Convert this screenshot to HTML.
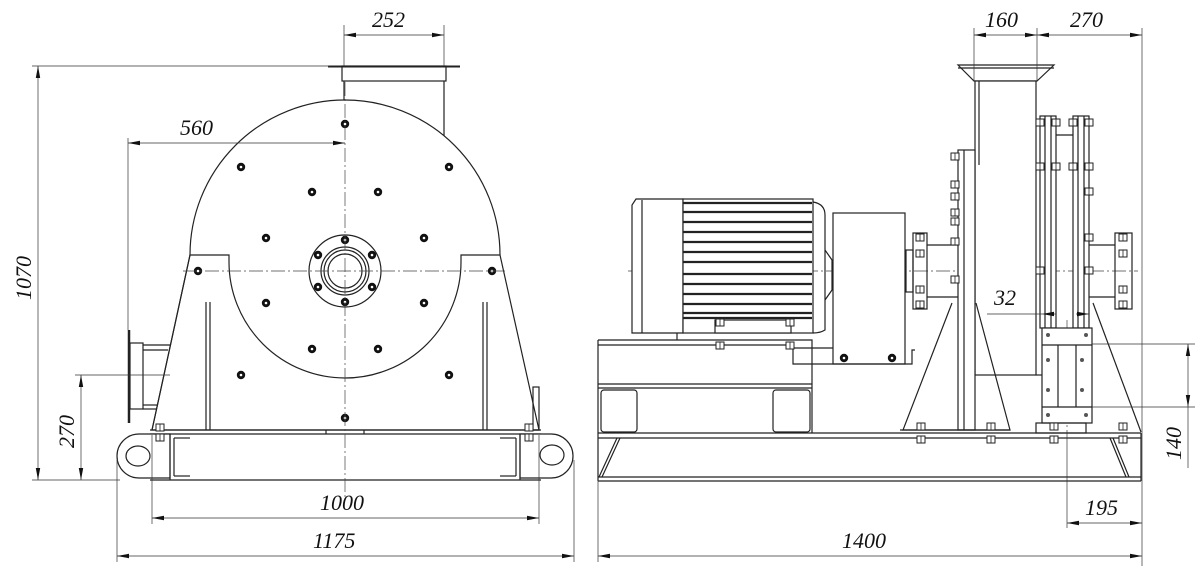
<!DOCTYPE html>
<html><head><meta charset="utf-8"><style>
html,body{margin:0;padding:0;background:#fff;}
svg{display:block;}
text{font-family:"Liberation Serif",serif;font-style:italic;font-size:22px;fill:#111;}
</style></head><body>
<svg width="1200" height="576" viewBox="0 0 1200 576" xmlns="http://www.w3.org/2000/svg">
<defs>
<marker id="a" viewBox="0 0 12 6" refX="12" refY="3" markerWidth="12" markerHeight="6" orient="auto-start-reverse" markerUnits="userSpaceOnUse"><path d="M0,0.8 L12,3 L0,5.2z" fill="#111"/></marker>
<g id="b"><circle r="4.2" fill="#111"/><circle r="1.3" fill="#fff"/></g>
<g id="nb"><rect x="-4" y="-4" width="8" height="7" fill="#fff" stroke="#222" stroke-width="1"/><line x1="0" y1="-4" x2="0" y2="3" stroke="#222" stroke-width="0.8"/></g>
</defs>
<g fill="none" stroke="#222" stroke-width="1.2">
<line x1="328" y1="66.5" x2="460" y2="66.5" stroke-width="2"/>
<rect x="342" y="66" width="104" height="15"/>
<line x1="344" y1="81" x2="344" y2="116"/>
<line x1="444" y1="81" x2="444" y2="150"/>
<path d="M190,255 A155,155 0 0 1 500,255" fill="#fff"/>
<path d="M190,255 L229,255 L229,262 A116,116 0 0 0 461,262 L461,255 L500,255 L539,430 L152,430 Z" fill="#fff"/>
<path d="M190,255 L152,430"/>
<line x1="206" y1="302" x2="206" y2="430"/><line x1="210" y1="302" x2="210" y2="430"/>
<line x1="483" y1="302" x2="483" y2="430"/><line x1="487" y1="302" x2="487" y2="430"/>
<rect x="533" y="387" width="6" height="43"/>
<line x1="129" y1="330" x2="129" y2="423" stroke-width="2.5"/>
<rect x="130" y="343" width="13" height="66"/>
<line x1="143" y1="345" x2="170" y2="345"/><line x1="143" y1="350" x2="168" y2="350"/>
<line x1="143" y1="405" x2="158" y2="405"/><line x1="143" y1="409" x2="156" y2="409"/>
<circle cx="345" cy="271" r="36"/>
<circle cx="345" cy="271" r="24"/>
<circle cx="345" cy="271" r="21"/>
<circle cx="345" cy="271" r="17"/>
<line x1="150" y1="430" x2="541" y2="430"/><line x1="150" y1="434" x2="541" y2="434"/>
<path d="M170,434 L139,434 A22,22 0 0 0 139,478 L170,478 Z" fill="#fff"/>
<path d="M520,434 L551,434 A22,22 0 0 1 551,478 L520,478 Z" fill="#fff"/>
<ellipse cx="138" cy="456" rx="12" ry="10"/>
<ellipse cx="552" cy="455" rx="12" ry="10"/>
<line x1="150" y1="480" x2="541" y2="480"/>
<line x1="170" y1="434" x2="170" y2="480"/><line x1="174" y1="438" x2="174" y2="476"/>
<line x1="516" y1="438" x2="516" y2="476"/><line x1="520" y1="434" x2="520" y2="480"/>
<line x1="174" y1="438" x2="190" y2="438"/><line x1="174" y1="476" x2="190" y2="476"/>
<line x1="500" y1="438" x2="516" y2="438"/><line x1="500" y1="476" x2="516" y2="476"/>
<line x1="326" y1="434" x2="326" y2="430"/><line x1="364" y1="434" x2="364" y2="430"/>
</g>
<g>
<use href="#nb" x="160" y="428"/><use href="#nb" x="160" y="438"/>
<use href="#nb" x="529" y="428"/><use href="#nb" x="529" y="438"/>
<use href="#b" x="345" y="124"/><use href="#b" x="241" y="167"/><use href="#b" x="449" y="167"/>
<use href="#b" x="312" y="192"/><use href="#b" x="378" y="192"/>
<use href="#b" x="266" y="238"/><use href="#b" x="424" y="238"/>
<use href="#b" x="198" y="271"/><use href="#b" x="492" y="271"/>
<use href="#b" x="266" y="303"/><use href="#b" x="424" y="303"/>
<use href="#b" x="312" y="349"/><use href="#b" x="378" y="349"/>
<use href="#b" x="241" y="375"/><use href="#b" x="449" y="375"/>
<use href="#b" x="345" y="418"/>
<use href="#b" x="345" y="240"/><use href="#b" x="345" y="302"/>
<use href="#b" x="318" y="255"/><use href="#b" x="372" y="255"/>
<use href="#b" x="318" y="287"/><use href="#b" x="372" y="287"/>
</g>
<g stroke="#444" stroke-width="0.7" stroke-dasharray="14,3,2,3" fill="none">
<line x1="183" y1="271" x2="506" y2="271"/>
<line x1="345" y1="82" x2="345" y2="500"/>
<line x1="628" y1="271" x2="1138" y2="271"/>
<line x1="1067" y1="320" x2="1067" y2="430"/>
</g>
<g fill="none" stroke="#222" stroke-width="1.2">
<path d="M636,199 L683,199 L683,333 L632,333 L632,205 Z" fill="#fff"/>
<line x1="642" y1="200" x2="642" y2="333"/>
<rect x="683" y="199" width="130" height="134" fill="#fff"/>
<path d="M813,202 Q825,204 825,215 L825,330 Q820,333 813,333"/>
<path d="M825,250 L832,260 L832,290 L825,300"/>
<g stroke-width="2.2">
<line x1="683" y1="203" x2="812" y2="203"/><line x1="683" y1="212" x2="812" y2="212"/>
<line x1="683" y1="222" x2="812" y2="222"/><line x1="683" y1="232" x2="812" y2="232"/>
<line x1="683" y1="242" x2="812" y2="242"/><line x1="683" y1="252" x2="812" y2="252"/>
<line x1="683" y1="262" x2="812" y2="262"/><line x1="683" y1="274" x2="812" y2="274"/>
<line x1="683" y1="284" x2="812" y2="284"/><line x1="683" y1="294" x2="812" y2="294"/>
<line x1="683" y1="304" x2="812" y2="304"/><line x1="683" y1="313" x2="812" y2="313"/>
<line x1="683" y1="318" x2="812" y2="318"/>
</g>
<rect x="715" y="320" width="76" height="13" fill="#fff"/>
<line x1="677" y1="333" x2="677" y2="340"/>
<rect x="833" y="213" width="72" height="151" fill="#fff"/>
<path d="M793,348 L793,364 L912,364 L912,350 L915,350"/>
<path d="M793,348 L833,348"/>
<path d="M598,340 L812,340 L812,433 M598,345 L793,345 M598,384 L812,384 M598,388 L812,388"/>
<line x1="598" y1="340" x2="598" y2="481"/>
<rect x="601" y="390" width="36" height="42" rx="3"/>
<rect x="773" y="390" width="37" height="42" rx="3"/>
<line x1="598" y1="433" x2="1141" y2="433"/><line x1="598" y1="438" x2="1141" y2="438"/>
<line x1="598" y1="477" x2="1141" y2="477"/><line x1="598" y1="481" x2="1141" y2="481"/>
<line x1="1141" y1="433" x2="1141" y2="481"/>
<path d="M617,438 L599,477 M620,438 L602,477 M1110,438 L1126,477 M1113,438 L1129,477"/>
<path d="M958,65 L1054,65 L1037,81 L974,81 Z" fill="#fff"/>
<line x1="958" y1="68" x2="1054" y2="68"/>
<rect x="975" y="81" width="61" height="294" fill="#fff"/>
<line x1="979" y1="81" x2="979" y2="165"/>
<rect x="958" y="150" width="17" height="280" fill="#fff"/>
<line x1="964" y1="150" x2="964" y2="430"/>
<path d="M952,303 L903,430 L1010,430 L976,303"/>
<line x1="900" y1="430" x2="1010" y2="430"/>
<rect x="913" y="233" width="14" height="76"/>
<rect x="906" y="250" width="7" height="42"/>
<line x1="927" y1="245" x2="958" y2="245"/><line x1="927" y1="297" x2="958" y2="297"/>
<rect x="1040" y="116" width="16" height="212" fill="#fff"/>
<line x1="1045" y1="116" x2="1045" y2="328"/><line x1="1051" y1="116" x2="1051" y2="328"/>
<rect x="1073" y="116" width="16" height="212" fill="#fff"/>
<line x1="1078" y1="116" x2="1078" y2="328"/><line x1="1084" y1="116" x2="1084" y2="328"/>
<line x1="1056" y1="135" x2="1073" y2="135"/>
<line x1="1036" y1="375" x2="1042" y2="375"/>
<rect x="1042" y="328" width="50" height="95" fill="#fff"/>
<line x1="1042" y1="345" x2="1092" y2="345"/>
<line x1="1058" y1="345" x2="1058" y2="407"/><line x1="1076" y1="345" x2="1076" y2="407"/>
<line x1="1042" y1="407" x2="1092" y2="407"/>
<rect x="1036" y="423" width="50" height="10"/>
<path d="M1093,303 L1141,432"/>
<rect x="1115" y="233" width="17" height="76"/>
<line x1="1089" y1="245" x2="1115" y2="245"/><line x1="1089" y1="297" x2="1115" y2="297"/>
</g>
<g>
<use href="#nb" x="920" y="238"/><use href="#nb" x="920" y="254"/><use href="#nb" x="920" y="290"/><use href="#nb" x="920" y="305"/>
<use href="#nb" x="1123" y="238"/><use href="#nb" x="1123" y="254"/><use href="#nb" x="1123" y="290"/><use href="#nb" x="1123" y="305"/>
<use href="#nb" x="955" y="157"/><use href="#nb" x="955" y="185"/><use href="#nb" x="955" y="197"/><use href="#nb" x="955" y="213"/><use href="#nb" x="955" y="222"/><use href="#nb" x="955" y="242"/><use href="#nb" x="955" y="280"/>
<use href="#nb" x="1040" y="123"/><use href="#nb" x="1040" y="167"/><use href="#nb" x="1040" y="271"/>
<use href="#nb" x="1089" y="123"/><use href="#nb" x="1089" y="167"/><use href="#nb" x="1089" y="192"/><use href="#nb" x="1089" y="238"/><use href="#nb" x="1089" y="271"/>
<use href="#nb" x="1073" y="123"/><use href="#nb" x="1073" y="167"/><use href="#nb" x="1056" y="123"/><use href="#nb" x="1056" y="167"/>
<use href="#nb" x="720" y="323"/><use href="#nb" x="720" y="346"/><use href="#nb" x="790" y="323"/><use href="#nb" x="790" y="346"/>
<use href="#nb" x="921" y="427"/><use href="#nb" x="921" y="440"/><use href="#nb" x="991" y="427"/><use href="#nb" x="991" y="440"/>
<use href="#nb" x="1054" y="427"/><use href="#nb" x="1054" y="440"/><use href="#nb" x="1123" y="427"/><use href="#nb" x="1123" y="440"/>
<use href="#b" x="844" y="358"/><use href="#b" x="892" y="358"/>
</g>
<g fill="#555"><circle cx="1048" cy="335" r="2"/><circle cx="1086" cy="335" r="2"/><circle cx="1048" cy="360" r="2"/><circle cx="1082" cy="360" r="2"/><circle cx="1048" cy="390" r="2"/><circle cx="1082" cy="390" r="2"/><circle cx="1048" cy="415" r="2"/><circle cx="1086" cy="415" r="2"/></g>
<g stroke="#333" stroke-width="0.7" fill="none">
<line x1="344" y1="25" x2="344" y2="66"/><line x1="444" y1="25" x2="444" y2="66"/>
<line x1="344" y1="35" x2="444" y2="35" marker-start="url(#a)" marker-end="url(#a)"/>
<line x1="32" y1="66" x2="330" y2="66"/>
<line x1="32" y1="480" x2="120" y2="480"/>
<line x1="38" y1="66" x2="38" y2="480" marker-start="url(#a)" marker-end="url(#a)"/>
<line x1="128" y1="138" x2="128" y2="330"/>
<line x1="128" y1="143" x2="345" y2="143" marker-start="url(#a)" marker-end="url(#a)"/>
<line x1="75" y1="375" x2="170" y2="375"/>
<line x1="81" y1="375" x2="81" y2="480" marker-start="url(#a)" marker-end="url(#a)"/>
<line x1="152" y1="435" x2="152" y2="524"/><line x1="539" y1="435" x2="539" y2="524"/>
<line x1="152" y1="518" x2="539" y2="518" marker-start="url(#a)" marker-end="url(#a)"/>
<line x1="117" y1="460" x2="117" y2="562"/><line x1="574" y1="460" x2="574" y2="562"/>
<line x1="117" y1="556" x2="574" y2="556" marker-start="url(#a)" marker-end="url(#a)"/>
<line x1="974" y1="28" x2="974" y2="81"/><line x1="1037" y1="28" x2="1037" y2="81"/><line x1="1142" y1="28" x2="1142" y2="566"/>
<line x1="974" y1="35" x2="1037" y2="35" marker-start="url(#a)" marker-end="url(#a)"/>
<line x1="1037" y1="35" x2="1142" y2="35" marker-start="url(#a)" marker-end="url(#a)"/>
<line x1="987" y1="314" x2="1042" y2="314"/>
<line x1="1042" y1="314" x2="1056" y2="314" marker-start="url(#a)"/>
<line x1="1076" y1="314" x2="1089" y2="314" marker-end="url(#a)"/>
<line x1="1092" y1="344" x2="1195" y2="344"/><line x1="1092" y1="407" x2="1195" y2="407"/>
<line x1="1188" y1="344" x2="1188" y2="407" marker-start="url(#a)" marker-end="url(#a)"/>
<line x1="1188" y1="407" x2="1188" y2="468"/>
<line x1="1067" y1="430" x2="1067" y2="528"/>
<line x1="1067" y1="523" x2="1142" y2="523" marker-start="url(#a)" marker-end="url(#a)"/>
<line x1="598" y1="480" x2="598" y2="562"/>
<line x1="598" y1="556" x2="1142" y2="556" marker-start="url(#a)" marker-end="url(#a)"/>
</g>
<g>
<text x="372" y="27">252</text>
<text x="180" y="135">560</text>
<text x="320" y="510">1000</text>
<text x="313" y="548">1175</text>
<text transform="translate(31,300) rotate(-90)">1070</text>
<text transform="translate(74,448) rotate(-90)">270</text>
<text x="985" y="27">160</text>
<text x="1070" y="27">270</text>
<text x="994" y="305">32</text>
<text transform="translate(1181,460) rotate(-90)">140</text>
<text x="1085" y="515">195</text>
<text x="842" y="548">1400</text>
</g>
</svg>
</body></html>
